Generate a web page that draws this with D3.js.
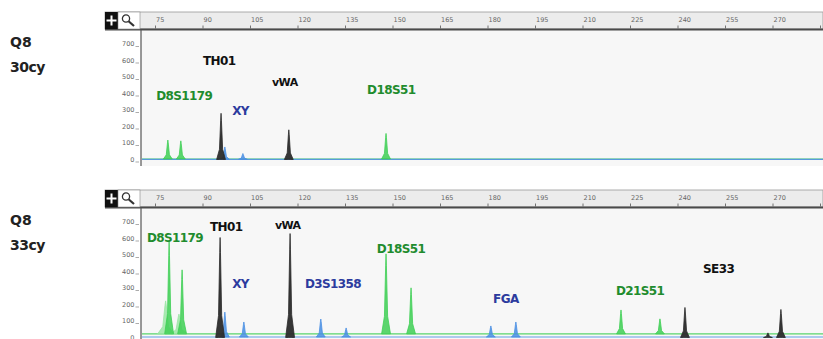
<!DOCTYPE html>
<html>
<head>
<meta charset="utf-8">
<title>Q8 30cy / 33cy</title>
<script src="https://cdnjs.cloudflare.com/ajax/libs/d3/7.8.5/d3.min.js"></script>
<style>
  body { margin: 0; background: #fff; }
</style>
</head>
<body>
<script>
var width = 823
var height = 339

var sizeTicks = [75, 90, 105, 120, 135, 150, 165, 180, 195, 210, 225, 240, 255, 270, 285]
var rfuTicks = [0, 100, 200, 300, 400, 500, 600, 700]
var sampleNames = ["Q8", "Q8"]
var cycleNames = ["30cy", "33cy"]

// peaks: [size (bp), height (RFU), dye]
var peaks30 = [
  [78.9, 115, "green"], [83.0, 110, "green"],
  [96.9, 75, "blue"], [102.6, 35, "blue"],
  [95.7, 280, "black"], [117.1, 180, "black"],
  [147.8, 155, "green"]
]
var peaks33 = [
  [78.2, 200, "lightgreen"], [82.4, 120, "lightgreen"],
  [79.3, 558, "green"], [83.4, 388, "green"],
  [96.9, 151, "blue"], [102.9, 91, "blue"],
  [127.2, 109, "blue"], [135.2, 55, "blue"],
  [180.9, 67, "blue"], [188.8, 91, "blue"],
  [147.8, 485, "green"], [155.7, 279, "green"],
  [222.0, 145, "green"], [234.3, 91, "green"],
  [95.4, 606, "black"], [117.5, 630, "black"],
  [242.2, 182, "black"], [268.4, 28, "black"], [272.5, 170, "black"]
]
// raised baselines per dye
var baseline30 = { blue: 1, green: 3, lightgreen: 3, black: 0 }
var baseline33 = { blue: 3, green: 22, lightgreen: 22, black: 0 }

// locus labels: [name, size, RFU, dye]
var loci30 = [
  ["TH01", 90.0, 570, "black"], ["vWA", 111.8, 448, "black"],
  ["D8S1179", 75.2, 358, "green"], ["XY", 99.2, 267, "blue"],
  ["D18S51", 141.8, 400, "green"]
]
var loci33 = [
  ["D8S1179", 72.3, 576, "green"], ["TH01", 92.2, 648, "black"],
  ["vWA", 112.7, 660, "black"], ["XY", 99.2, 297, "blue"],
  ["D3S1358", 122.2, 297, "blue"], ["D18S51", 144.9, 515, "green"],
  ["FGA", 181.6, 212, "blue"], ["D21S51", 220.4, 255, "green"],
  ["SE33", 247.9, 388, "black"]
]

var traceColor = { blue: "#4a8fe3", green: "#3fcf55", lightgreen: "#9be6a4", black: "#2b2b2b" }
var labelColor = { blue: "#2c3b9e", green: "#1f8c2e", black: "#111" }

var svg = d3.select("body").append("svg")
  .attr("width", width).attr("height", height)

var x = d3.scaleLinear().domain([75, 270]).range([155.5, 773])

function drawPanel(top, sample, cycles, peaks, base, loci) {
  var g = svg.append("g").attr("transform", "translate(0," + top + ")")
  var y = d3.scaleLinear().domain([0, 700]).range([147.5, 32])

  // sample label
  g.append("text").attr("x", 10).attr("y", 35)
    .attr("font-family", "DejaVu Sans").attr("font-weight", "bold")
    .attr("font-size", 14).attr("fill", "#222").text(sample)
  g.append("text").attr("x", 10).attr("y", 60)
    .attr("font-family", "DejaVu Sans").attr("font-weight", "bold")
    .attr("font-size", 14).attr("fill", "#222").attr("letter-spacing", -0.5).text(cycles)

  // plot background
  g.append("rect").attr("x", 141).attr("y", 18).attr("width", width - 141).attr("height", 136)
    .attr("fill", "#f7f7f7")

  // header strip
  g.append("rect").attr("x", 105).attr("y", 0).attr("width", width - 105).attr("height", 17)
    .attr("fill", "#ececec").attr("stroke", "#9a9a9a").attr("stroke-width", 0.8)
  g.append("rect").attr("x", 105).attr("y", 16.5).attr("width", width - 105).attr("height", 2)
    .attr("fill", "#4a4a4a")
  g.append("rect").attr("x", 105).attr("y", 0).attr("width", 13).attr("height", 17).attr("fill", "#111")
  g.append("path").attr("d", "M111.5,3.5V13.5M106.5,8.5H116.5").attr("stroke", "#fff").attr("stroke-width", 2)
  g.append("rect").attr("x", 118).attr("y", 0).attr("width", 22).attr("height", 17).attr("fill", "#fff")
    .attr("stroke", "#888").attr("stroke-width", 0.6)
  g.append("circle").attr("cx", 126).attr("cy", 6.5).attr("r", 3.6).attr("fill", "none")
    .attr("stroke", "#333").attr("stroke-width", 1.3)
  g.append("path").attr("d", "M128.6,9.2L134,14").attr("stroke", "#333").attr("stroke-width", 2.2)

  // size ticks in header (label only where it fits)
  sizeTicks.forEach(function(t) {
    var px = x(t)
    g.append("line").attr("x1", px).attr("x2", px).attr("y1", 13.5).attr("y2", 16.5)
      .attr("stroke", "#555").attr("stroke-width", 0.8)
    if (px + 14 < width) {
      g.append("text").attr("x", px + 0.5).attr("y", 10)
        .attr("font-family", "DejaVu Sans").attr("font-size", 6.5).attr("fill", "#666")
        .text(t)
    }
  })

  // left axis line
  g.append("line").attr("x1", 141).attr("x2", 141).attr("y1", 18).attr("y2", 154)
    .attr("stroke", "#555").attr("stroke-width", 1.2)

  // rfu ticks
  rfuTicks.forEach(function(t) {
    g.append("text").attr("x", 134.5).attr("y", y(t) + 2.3).attr("text-anchor", "end")
      .attr("font-family", "DejaVu Sans").attr("font-size", 6.5).attr("fill", "#666").text(t)
    g.append("line").attr("x1", 135.5).attr("x2", 139).attr("y1", y(t) + 2.5).attr("y2", y(t) + 2.5)
      .attr("stroke", "#888").attr("stroke-width", 0.7)
  })

  var clip = "clip" + top
  g.append("clipPath").attr("id", clip).append("rect")
    .attr("x", 142).attr("y", 18).attr("width", width - 142).attr("height", 136)
  var plot = g.append("g").attr("clip-path", "url(#" + clip + ")")

  // baselines
  ;["green", "blue"].forEach(function(dye) {
    plot.append("line").attr("x1", 142).attr("x2", width)
      .attr("y1", y(base[dye])).attr("y2", y(base[dye]))
      .attr("stroke", traceColor[dye]).attr("stroke-width", 1.2).attr("opacity", 0.85)
  })

  // peak shape: spike with a slightly wider foot
  var shape = [[-1.4, 0], [-0.5, 0.22], [-0.12, 0.85], [0, 1], [0.12, 0.85], [0.5, 0.22], [1.4, 0]]
  var area = d3.area().x(function(d) { return x(d[0]) })
    .y0(function(d) { return y(d[2]) }).y1(function(d) { return y(d[2] + d[1]) })

  var order = ["lightgreen", "blue", "green", "black"]
  order.forEach(function(dye) {
    peaks.filter(function(p) { return p[2] === dye }).forEach(function(p) {
      var wide = dye === "lightgreen" ? 1.8 : 1
      var pts = shape.map(function(s) { return [p[0] + s[0] * wide, p[1] * s[1], base[dye]] })
      plot.append("path").attr("d", area(pts))
        .attr("fill", traceColor[dye]).attr("fill-opacity", dye === "black" ? 0.95 : 0.85)
        .attr("stroke", traceColor[dye]).attr("stroke-width", 0.8)
    })
  })

  // locus labels
  loci.forEach(function(l) {
    plot.append("text").attr("x", x(l[1])).attr("y", y(l[2]))
      .attr("font-family", "DejaVu Sans").attr("font-weight", "bold")
      .attr("font-size", l[0] === "vWA" ? 11 : 12).attr("letter-spacing", -0.6)
      .attr("fill", labelColor[l[3]]).text(l[0])
  })
}

drawPanel(12, sampleNames[0], cycleNames[0], peaks30, baseline30, loci30)
drawPanel(190, sampleNames[1], cycleNames[1], peaks33, baseline33, loci33)
</script>
</body>
</html>
